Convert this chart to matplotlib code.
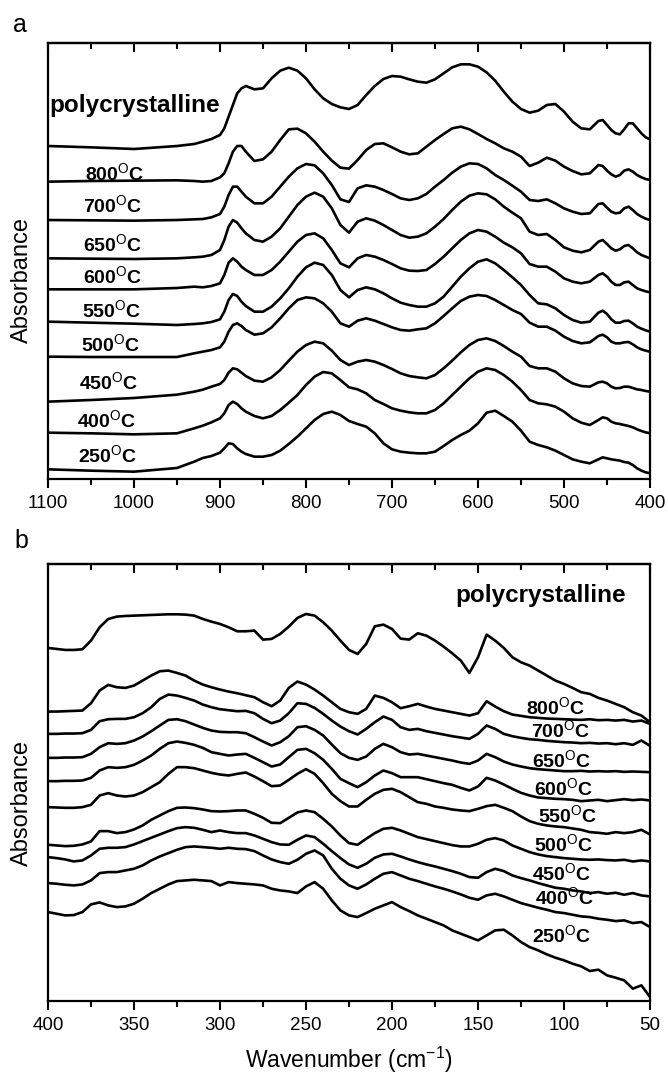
import matplotlib.pyplot as plt
from matplotlib.ticker import MultipleLocator

plt.rcParams['font.family'] = ['Liberation Sans', 'DejaVu Sans']
plt.rcParams['mathtext.fontset'] = 'custom'
plt.rcParams['mathtext.rm'] = 'Liberation Sans'
plt.rcParams['mathtext.it'] = 'Liberation Sans:italic'
plt.rcParams['mathtext.bf'] = 'Liberation Sans:bold'

# ---- panel a: mid-IR absorbance, stacked (a.u.) ----
wn_a = [1100, 1050, 1000, 950, 930, 920, 910, 900, 895, 890, 885, 880, 875, 870,
        860, 850, 840, 830, 820, 810, 800, 790, 780, 770, 760, 750, 740, 730, 720,
        710, 700, 690, 680, 670, 660, 650, 640, 630, 620, 610, 600, 590, 580, 570,
        560, 550, 540, 530, 520, 510, 500, 490, 480, 470, 460, 455, 450, 445, 440,
        435, 430, 425, 420, 415, 410, 405, 400]

a_poly = [999, 995, 990, 999, 1005, 1012, 1020, 1032, 1052, 1087, 1122, 1157, 1172, 1179,
          1169, 1172, 1202, 1225, 1234, 1225, 1202, 1169, 1142, 1125, 1115, 1110, 1122, 1152, 1179,
          1200, 1209, 1207, 1199, 1192, 1189, 1199, 1217, 1235, 1244, 1244, 1237, 1220, 1195, 1162,
          1132, 1110, 1099, 1105, 1122, 1125, 1102, 1072, 1052, 1049, 1074, 1077, 1062, 1047, 1037,
          1034, 1049, 1067, 1067, 1052, 1037, 1025, 1019]
a_800 = [892, 894, 895, 896, 894, 892, 894, 905, 917, 947, 982, 999, 999, 982,
         954, 959, 982, 1017, 1049, 1051, 1037, 1012, 982, 955, 934, 931, 957, 987, 1005,
         1007, 995, 982, 974, 977, 997, 1017, 1035, 1052, 1057, 1049, 1035, 1020, 1007, 992,
         982, 967, 939, 949, 964, 955, 937, 924, 914, 917, 942, 939, 925, 914, 907,
         912, 925, 929, 922, 912, 905, 900, 897]
a_700 = [777, 776, 775, 777, 779, 780, 785, 795, 817, 852, 877, 877, 862, 847,
         827, 827, 847, 877, 907, 932, 945, 941, 917, 882, 839, 831, 872, 881, 877,
         867, 855, 842, 837, 842, 855, 877, 897, 919, 937, 947, 945, 932, 912, 897,
         880, 862, 837, 834, 839, 827, 812, 802, 795, 797, 825, 827, 814, 802, 797,
         799, 812, 817, 807, 795, 787, 781, 777]
a_650 = [662, 661, 660, 662, 665, 667, 672, 687, 717, 757, 777, 769, 752, 737,
         717, 712, 727, 752, 787, 822, 847, 859, 847, 812, 762, 739, 772, 782, 775,
         762, 747, 732, 724, 727, 737, 757, 780, 807, 832, 850, 857, 854, 839, 817,
         799, 782, 742, 732, 735, 717, 695, 685, 680, 687, 712, 717, 705, 692, 685,
         689, 699, 702, 692, 680, 672, 667, 662]
a_600 = [569, 569, 569, 573, 577, 575, 579, 587, 612, 649, 662, 652, 637, 627,
         612, 612, 627, 652, 682, 712, 732, 737, 722, 687, 647, 635, 662, 672, 667,
         657, 645, 632, 625, 624, 627, 645, 667, 692, 717, 737, 747, 742, 727, 709,
         695, 677, 645, 637, 637, 622, 602, 592, 587, 592, 612, 617, 607, 592, 582,
         582, 590, 592, 582, 572, 567, 563, 560]
a_550 = [472, 469, 466, 462, 465, 467, 471, 479, 502, 537, 555, 549, 532, 519,
         502, 502, 517, 542, 572, 607, 635, 649, 642, 612, 567, 545, 567, 575, 569,
         557, 542, 529, 522, 517, 517, 527, 547, 577, 607, 632, 652, 659, 647, 627,
         605, 582, 552, 527, 524, 512, 492, 477, 469, 472, 499, 505, 495, 479, 469,
         469, 474, 475, 467, 457, 451, 446, 442]
a_500 = [367, 366, 366, 366, 377, 382, 387, 395, 412, 442, 462, 467, 459, 447,
         433, 437, 455, 482, 512, 537, 545, 542, 527, 502, 467, 457, 475, 482, 475,
         465, 455, 447, 445, 449, 452, 467, 489, 512, 534, 547, 552, 549, 537, 522,
         507, 495, 469, 457, 457, 445, 427, 414, 407, 410, 429, 433, 425, 412, 407,
         407, 410, 411, 404, 395, 389, 385, 382]
a_450 = [232, 237, 243, 253, 262, 268, 277, 285, 297, 319, 332, 329, 319, 309,
         295, 292, 305, 327, 355, 382, 402, 412, 407, 385, 357, 342, 352, 357, 352,
         342, 330, 317, 309, 305, 302, 312, 332, 355, 380, 402, 417, 422, 414, 399,
         382, 367, 339, 332, 332, 322, 302, 287, 279, 277, 290, 292, 287, 277, 272,
         273, 277, 277, 273, 269, 267, 264, 262]
a_400 = [139, 137, 134, 137, 152, 160, 170, 182, 197, 222, 232, 225, 212, 202,
         189, 182, 189, 207, 229, 252, 282, 307, 321, 317, 297, 275, 269, 257, 237,
         225, 212, 205, 200, 197, 197, 207, 227, 252, 277, 302, 322, 332, 327, 312,
         292, 267, 237, 227, 224, 217, 202, 182, 169, 162, 177, 185, 182, 172, 167,
         165, 162, 159, 155, 149, 144, 140, 137]
a_250 = [29, 25, 22, 33, 52, 63, 69, 79, 92, 107, 105, 92, 82, 75,
         67, 67, 72, 85, 105, 127, 152, 177, 195, 202, 192, 174, 165, 157, 137,
         107, 89, 82, 79, 77, 77, 82, 99, 117, 132, 145, 167, 199, 205, 189,
         172, 145, 112, 102, 95, 85, 72, 59, 52, 47, 59, 65, 62, 59, 57,
         55, 51, 49, 42, 32, 25, 20, 17]

labels_a = ['polycrystalline', '800', '700', '650', '600', '550', '500', '450', '400', '250']
lab_a_x = [1098, 1057, 1059, 1059, 1059, 1060, 1062, 1064, 1066, 1065]
lab_a_y = [1101, 897, 801, 684, 588, 486, 384, 270, 156, 51]

# ---- panel b: far-IR absorbance ----
wn_b = [400, 395, 390, 385, 380, 375, 370, 365, 360, 355, 350, 345, 340, 335, 330,
        325, 320, 315, 310, 305, 300, 295, 290, 285, 280, 275, 270, 265, 260, 255,
        250, 245, 240, 235, 230, 225, 220, 215, 210, 205, 200, 195, 190, 185, 180,
        175, 170, 165, 160, 155, 150, 145, 140, 135, 130, 125, 120, 115, 110, 105,
        100, 95, 90, 85, 80, 75, 70, 65, 60, 55, 50]

b_poly = [1060, 1057, 1054, 1054, 1056, 1082, 1122, 1147, 1154, 1156, 1157, 1158, 1159, 1160, 1161,
          1161, 1160, 1157, 1147, 1139, 1132, 1122, 1110, 1110, 1112, 1085, 1087, 1102, 1124, 1150,
          1162, 1157, 1137, 1112, 1082, 1054, 1042, 1072, 1125, 1130, 1117, 1088, 1085, 1104, 1097,
          1082, 1064, 1044, 1022, 985, 1032, 1100, 1082, 1060, 1032, 1017, 1007, 992, 977, 962,
          952, 940, 927, 922, 910, 902, 892, 882, 867, 857, 837]
b_800 = [869, 869, 870, 871, 872, 894, 932, 949, 942, 940, 947, 962, 977, 990, 992,
         985, 977, 962, 950, 942, 935, 929, 924, 918, 912, 897, 885, 902, 940, 959,
         950, 935, 917, 897, 877, 867, 862, 877, 917, 910, 897, 879, 885, 892, 884,
         877, 872, 867, 862, 857, 864, 900, 884, 870, 860, 856, 852, 850, 848, 847,
         846, 845, 844, 846, 843, 844, 842, 844, 839, 842, 832]
b_700 = [802, 802, 803, 803, 804, 814, 840, 846, 847, 847, 852, 864, 882, 907, 920,
         917, 910, 902, 890, 882, 876, 873, 870, 871, 864, 847, 834, 842, 864, 894,
         892, 880, 862, 842, 824, 810, 800, 817, 837, 854, 844, 822, 814, 817, 810,
         805, 800, 795, 791, 787, 802, 827, 817, 802, 795, 790, 786, 784, 781, 779,
         777, 776, 774, 775, 773, 774, 771, 774, 769, 782, 766]
b_650 = [730, 730, 731, 731, 732, 742, 762, 774, 772, 774, 782, 794, 810, 827, 844,
         846, 840, 830, 820, 812, 808, 807, 807, 804, 792, 779, 767, 777, 795, 822,
         825, 814, 797, 770, 744, 730, 724, 734, 757, 772, 762, 747, 740, 742, 737,
         732, 727, 722, 716, 712, 722, 742, 732, 719, 710, 704, 699, 696, 694, 692,
         690, 690, 691, 689, 690, 689, 690, 688, 689, 688, 687]
b_600 = [660, 660, 661, 661, 662, 670, 692, 702, 700, 702, 709, 722, 737, 757, 774,
         779, 775, 769, 760, 747, 742, 737, 740, 742, 730, 717, 704, 710, 732, 754,
         757, 744, 724, 697, 667, 654, 642, 657, 677, 692, 684, 672, 672, 672, 666,
         660, 654, 649, 640, 632, 644, 670, 662, 650, 637, 625, 617, 611, 609, 607,
         606, 604, 600, 602, 604, 600, 603, 606, 603, 605, 602]
b_550 = [582, 581, 580, 580, 582, 589, 617, 624, 617, 614, 617, 627, 642, 657, 682,
         702, 702, 699, 692, 685, 680, 677, 682, 686, 674, 660, 645, 647, 664, 682,
         696, 682, 654, 622, 600, 584, 584, 604, 622, 634, 637, 627, 612, 597, 592,
         584, 580, 575, 572, 570, 577, 585, 589, 580, 570, 554, 540, 532, 527, 524,
         522, 518, 514, 507, 505, 502, 507, 504, 507, 514, 500]
b_500 = [469, 467, 465, 466, 470, 479, 510, 510, 504, 507, 515, 527, 544, 557, 570,
         580, 581, 579, 575, 570, 569, 570, 572, 572, 562, 550, 535, 534, 550, 566,
         572, 567, 547, 524, 497, 474, 469, 487, 504, 517, 520, 512, 502, 492, 486,
         480, 474, 468, 464, 464, 472, 484, 489, 482, 467, 457, 447, 440, 435, 432,
         429, 427, 425, 424, 425, 423, 422, 424, 419, 422, 419]
b_450 = [432, 429, 425, 419, 422, 437, 457, 460, 460, 462, 470, 480, 490, 500, 510,
         519, 522, 520, 514, 507, 512, 507, 504, 504, 497, 487, 477, 470, 469, 484,
         497, 492, 472, 450, 429, 410, 400, 412, 430, 440, 442, 434, 425, 417, 410,
         404, 397, 390, 382, 372, 370, 387, 397, 390, 377, 369, 362, 354, 347, 340,
         337, 332, 329, 324, 327, 322, 325, 319, 324, 317, 314]
b_400 = [354, 352, 349, 347, 350, 362, 384, 387, 387, 392, 397, 407, 422, 434, 444,
         454, 462, 464, 462, 460, 457, 460, 457, 456, 450, 437, 425, 417, 412, 424,
         442, 452, 437, 397, 367, 347, 337, 350, 367, 382, 387, 377, 367, 360, 352,
         344, 337, 329, 320, 310, 304, 317, 322, 314, 304, 294, 287, 280, 274, 267,
         264, 259, 254, 252, 247, 244, 240, 242, 234, 237, 222]
b_250 = [267, 262, 257, 258, 267, 290, 296, 287, 282, 284, 292, 307, 324, 337, 350,
         360, 362, 364, 362, 360, 347, 357, 354, 352, 350, 347, 337, 332, 329, 324,
         344, 357, 337, 302, 272, 257, 252, 264, 277, 287, 297, 282, 270, 257, 247,
         237, 227, 212, 202, 192, 182, 197, 212, 214, 197, 177, 162, 152, 140, 130,
         122, 112, 104, 90, 94, 77, 70, 62, 37, 47, 12]

labels_b = ['polycrystalline', '800', '700', '650', '600', '550', '500', '450', '400', '250']
lab_b_x = [163, 122, 119, 118.5, 117.3, 115, 117.3, 118.5, 116.8, 118.5]
lab_b_y = [1197, 860, 792, 702, 617, 537, 450, 362, 292, 177]


def temp_label(t):
    if t == 'polycrystalline':
        return t
    return t + r'$^{\mathrm{O}}$C'


def draw_panel(ax, wn, curves, labels, lx, ly, xlim, ylim, step):
    for y in curves:
        ax.plot(wn, y, color='black', lw=1.9, solid_joinstyle='round', solid_capstyle='round')
    for t, x, y in zip(labels, lx, ly):
        fs = 17.5 if t == 'polycrystalline' else 14
        ax.text(x, y, temp_label(t), fontsize=fs, fontweight='bold', ha='left', va='baseline')
    ax.set_xlim(xlim)
    ax.set_ylim(ylim)
    ax.set_yticks([])
    ax.xaxis.set_major_locator(MultipleLocator(step))
    ax.xaxis.set_minor_locator(MultipleLocator(step / 2))
    ax.tick_params(axis='x', which='both', direction='out', width=1.5, labelsize=13.5, pad=5)
    ax.tick_params(axis='x', which='major', length=6.5)
    ax.tick_params(axis='x', which='minor', length=4)
    for s in ax.spines.values():
        s.set_linewidth(1.6)
    top = ax.secondary_xaxis('top')
    top.xaxis.set_major_locator(MultipleLocator(step))
    top.xaxis.set_minor_locator(MultipleLocator(step / 2))
    top.tick_params(axis='x', which='both', direction='in', width=1.5, labeltop=False)
    top.tick_params(axis='x', which='major', length=6.5)
    top.tick_params(axis='x', which='minor', length=4)
    top.spines['top'].set_linewidth(1.6)
    ax.set_ylabel('Absorbance', fontsize=17)


W, H = 668, 1074
fig = plt.figure(figsize=(W / 100, H / 100), dpi=100)
ax_a = fig.add_axes([48 / W, 1 - 479 / H, 602 / W, 436 / H])
ax_b = fig.add_axes([48 / W, 1 - 1001 / H, 602 / W, 437 / H])

draw_panel(ax_a, wn_a, [a_poly, a_800, a_700, a_650, a_600, a_550, a_500, a_450, a_400, a_250],
           labels_a, lab_a_x, lab_a_y, (1100, 400), (0, 1308), 100)
draw_panel(ax_b, wn_b, [b_poly, b_800, b_700, b_650, b_600, b_550, b_500, b_450, b_400, b_250],
           labels_b, lab_b_x, lab_b_y, (400, 50), (0, 1312), 50)

ax_a.yaxis.set_label_coords(-0.025, 0.456)
ax_b.yaxis.set_label_coords(-0.025, 0.453)
ax_b.set_xlabel(r'Wavenumber (cm$^{\mathrm{-1}}$)', fontsize=16.5, va='baseline')
ax_b.xaxis.set_label_coords(0.5, -0.153)

fig.text(13 / W, 1 - 25 / H, 'a', fontsize=18, va='center', ha='left')
fig.text(14 / W, 1 - 541 / H, 'b', fontsize=18, va='center', ha='left')

fig.savefig('out.png', dpi=100)
